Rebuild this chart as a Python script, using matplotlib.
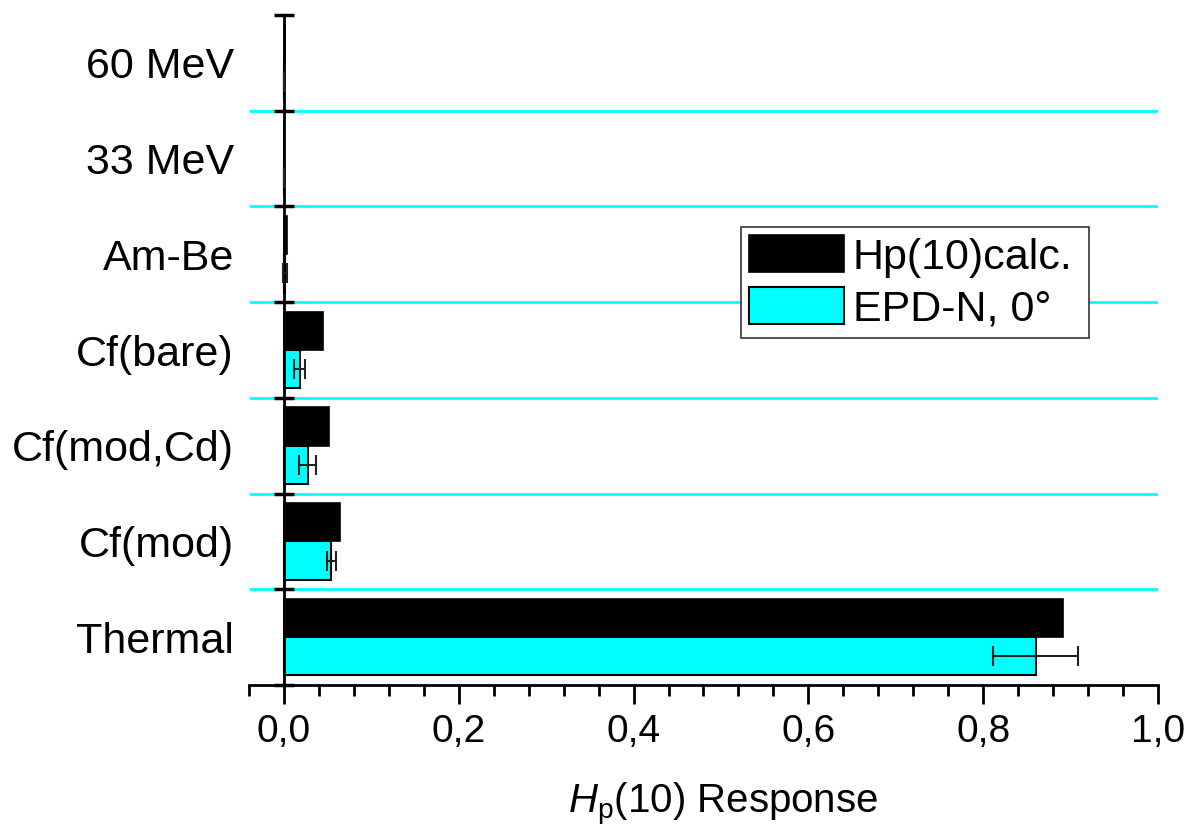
import numpy as np
import matplotlib.pyplot as plt
from matplotlib.ticker import FuncFormatter, MultipleLocator

plt.rcParams['font.family'] = ['Liberation Sans', 'DejaVu Sans']
plt.rcParams['mathtext.fontset'] = 'custom'
plt.rcParams['mathtext.rm'] = 'Liberation Sans'
plt.rcParams['mathtext.it'] = 'Liberation Sans:italic'

# categories from bottom to top
sources = ['Thermal', 'Cf(mod)', 'Cf(mod,Cd)', 'Cf(bare)', 'Am-Be', '33 MeV', '60 MeV']
hp_calc = [0.891, 0.064, 0.052, 0.045, 0.003, 0.0005, 0.001]
epd_n = [0.860, 0.054, 0.027, 0.018, 0.001, 0.0002, 0.0003]
epd_err = [0.049, 0.005, 0.0097, 0.006, 0.002, 0.0, 0.0]

fs = 31
fig = plt.figure(figsize=(11.95, 8.35), dpi=100)
ax = fig.add_axes([0.2084, 0.1796, 0.7606, 0.8024])

y = np.arange(len(sources))
h = 0.4
ax.barh(y + h / 2, hp_calc, height=h, color='black', edgecolor='black',
        linewidth=1.2, label='Hp(10)calc.', zorder=2)
ax.barh(y - h / 2, epd_n, height=h, color='#00ffff', edgecolor='black',
        linewidth=1.5, label='EPD-N, 0°', zorder=2)
ax.errorbar(epd_n, y - h / 2, xerr=epd_err, fmt='none', ecolor='#222222',
            elinewidth=1.5, capsize=7, capthick=1.5, zorder=3)

ax.set_xlim(-0.04, 1.0)
ax.set_ylim(-0.5, len(sources) - 0.5)

# cyan separators between categories
ax.hlines(y[:-1] + 0.5, -0.04, 1.0, colors='#00ffff', linewidth=2, zorder=0)

for s in ['top', 'right']:
    ax.spines[s].set_visible(False)
ax.spines['left'].set_position(('data', 0))
ax.spines['left'].set_linewidth(2)
ax.spines['bottom'].set_linewidth(2)

ax.xaxis.set_major_locator(MultipleLocator(0.2))
ax.xaxis.set_minor_locator(MultipleLocator(0.04))
ax.xaxis.set_major_formatter(FuncFormatter(lambda v, p: f'{v:.1f}'.replace('.', ',')))
ax.tick_params(axis='x', which='major', length=14, width=2, labelsize=28, pad=7)
ax.tick_params(axis='x', which='minor', length=8, width=2)

ax.set_yticks(y)
ax.set_yticklabels(sources)
ax.set_yticks(np.arange(len(sources) + 1) - 0.5, minor=True)
ax.tick_params(axis='y', which='major', length=0, labelsize=fs, pad=36)
ax.tick_params(axis='y', which='minor', length=15, width=2.5, direction='inout')

ax.set_xlabel(r'$\mathit{H}_\mathrm{p}$(10) Response', fontsize=29)
ax.xaxis.set_label_coords(0.522, -0.143)

leg = ax.legend(loc='upper left', bbox_to_anchor=(0.541, 0.525, 0.383, 0.159),
                mode='expand', borderaxespad=0,
                fontsize=fs, fancybox=False, framealpha=1, edgecolor='#333333',
                handlelength=2.2, handleheight=0.95, handletextpad=0.2,
                labelspacing=0.22, borderpad=0.2)
leg.get_frame().set_linewidth(1.2)

fig.savefig('out.png', dpi=100)
